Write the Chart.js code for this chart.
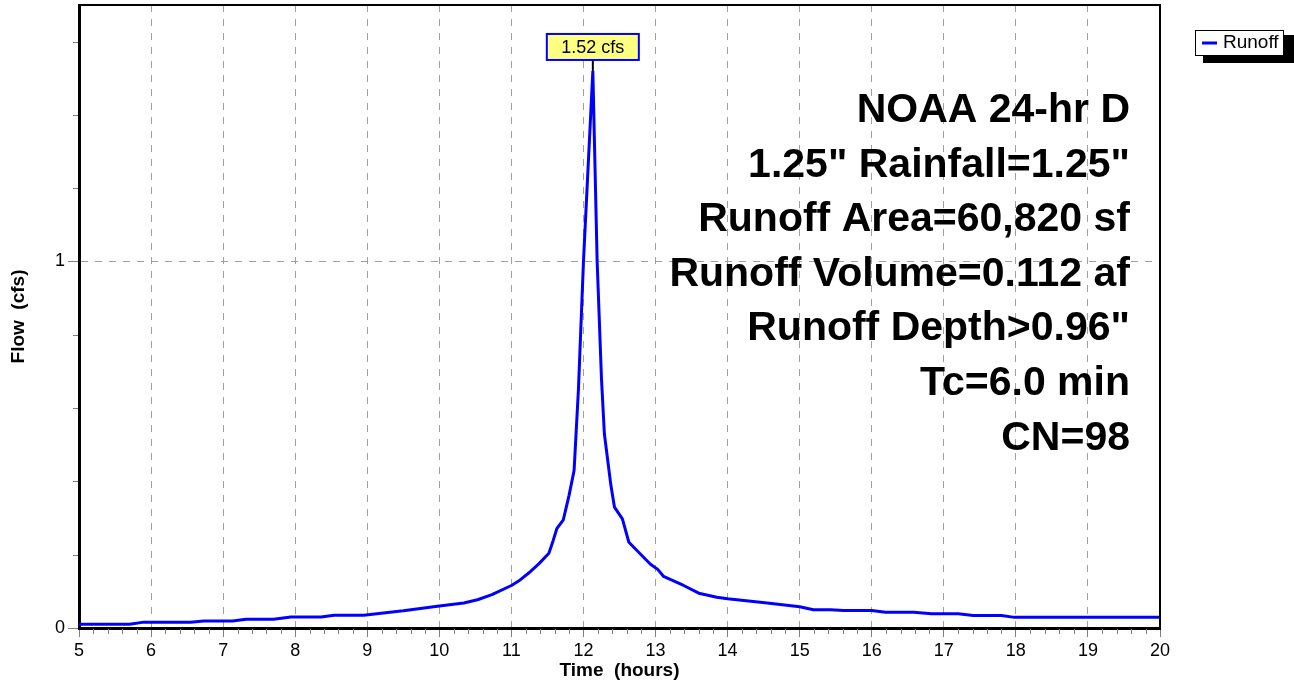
<!DOCTYPE html>
<html>
<head>
<meta charset="utf-8">
<script src="https://cdn.jsdelivr.net/npm/chart.js@4.4.1/dist/chart.umd.min.js"></script>
<style>
  html, body { margin: 0; padding: 0; background: #fff; }
  #wrap { width: 1294px; height: 684px; position: relative; }
</style>
</head>
<body>
<div id="wrap"><canvas id="hydrograph"></canvas></div>
<script>
// hydrograph (hours, cfs)
const hours = [5.00, 5.70, 5.90, 6.55, 6.73, 7.13, 7.32, 7.70, 7.94, 8.36, 8.54, 8.95, 9.50, 10.00,
  10.34, 10.53, 10.73, 11.00, 11.10, 11.24, 11.38, 11.52, 11.58, 11.63, 11.72, 11.80, 11.87, 11.90,
  11.93, 12.00, 12.13, 12.19, 12.25, 12.29, 12.38, 12.43, 12.54, 12.63, 12.80, 12.93, 13.03, 13.11,
  13.39, 13.60, 13.85, 14.00, 14.55, 15.00, 15.19, 15.43, 15.61, 16.00, 16.19, 16.58, 16.83, 17.20,
  17.41, 17.80, 17.98, 20.00];
const flows = [0.010, 0.010, 0.016, 0.016, 0.019, 0.019, 0.024, 0.024, 0.030, 0.030, 0.035, 0.035, 0.047, 0.060,
  0.068, 0.077, 0.091, 0.116, 0.128, 0.150, 0.175, 0.204, 0.239, 0.271, 0.295, 0.362, 0.430, 0.540,
  0.650, 1.000, 1.520, 1.000, 0.680, 0.530, 0.390, 0.330, 0.298, 0.234, 0.200, 0.174, 0.160, 0.141,
  0.116, 0.095, 0.084, 0.080, 0.068, 0.058, 0.050, 0.050, 0.048, 0.048, 0.043, 0.043, 0.039, 0.039,
  0.034, 0.034, 0.029, 0.029];

const seriesName = 'Runoff';
const xRange = [5, 20];
const yRange = [0, 1.7];
const infoLines = [
  'NOAA 24-hr D',
  '1.25" Rainfall=1.25"',
  'Runoff Area=60,820 sf',
  'Runoff Volume=0.112 af',
  'Runoff Depth>0.96"',
  'Tc=6.0 min',
  'CN=98'
];

const FONT = "'Liberation Sans', Arial, sans-serif";
Chart.defaults.font.family = FONT;
Chart.defaults.color = '#000';

// top/right frame + minor ticks
const framePlugin = {
  id: 'frame',
  afterDraw(chart) {
    const { ctx, chartArea: a, scales: { x, y } } = chart;
    ctx.save();
    ctx.strokeStyle = '#000';
    ctx.lineWidth = 2;
    ctx.beginPath();
    ctx.moveTo(a.left, a.top);
    ctx.lineTo(a.right, a.top);
    ctx.lineTo(a.right, a.bottom);
    ctx.stroke();

    ctx.strokeStyle = '#808080';
    ctx.lineWidth = 1;
    ctx.beginPath();
    for (let i = 0; i <= (xRange[1] - xRange[0]) * 5; i++) {
      if (i % 5 === 0) continue;
      const px = Math.round(x.getPixelForValue(xRange[0] + i / 5)) + 0.5;
      ctx.moveTo(px, a.bottom + 1);
      ctx.lineTo(px, a.bottom + 6);
    }
    for (let i = 1; i <= 8; i++) {
      if (i % 5 === 0) continue;
      const py = Math.round(y.getPixelForValue(i / 5)) + 0.5;
      ctx.moveTo(a.left - 6, py);
      ctx.lineTo(a.left - 1, py);
    }
    ctx.stroke();
    ctx.restore();
  }
};

// peak callout box
const peakPlugin = {
  id: 'peakLabel',
  afterDatasetsDraw(chart) {
    const { ctx, scales: { x, y } } = chart;
    let k = 0;
    flows.forEach((v, i) => { if (v > flows[k]) k = i; });
    const px = x.getPixelForValue(hours[k]);
    const py = y.getPixelForValue(flows[k]);
    const w = 92, h = 26;
    const bx = px - w / 2, by = py - 37;
    ctx.save();
    ctx.strokeStyle = '#000';
    ctx.lineWidth = 2;
    ctx.beginPath();
    ctx.moveTo(px, by + h);
    ctx.lineTo(px, py);
    ctx.stroke();
    ctx.fillStyle = '#ffff80';
    ctx.fillRect(bx, by, w, h);
    ctx.strokeStyle = '#0000ff';
    ctx.lineWidth = 2;
    ctx.strokeRect(bx, by, w, h);
    ctx.fillStyle = '#000';
    ctx.font = '18px ' + FONT;
    ctx.textAlign = 'center';
    ctx.textBaseline = 'middle';
    ctx.fillText(flows[k].toFixed(2) + ' cfs', px, by + h / 2 + 1);
    ctx.restore();
  }
};

// storm info text
const infoPlugin = {
  id: 'info',
  afterDatasetsDraw(chart) {
    const { ctx } = chart;
    ctx.save();
    ctx.fillStyle = '#000';
    ctx.font = 'bold 41px ' + FONT;
    ctx.textAlign = 'right';
    ctx.textBaseline = 'alphabetic';
    infoLines.forEach((t, i) => ctx.fillText(t, 1130, 122 + i * 54.6));
    ctx.restore();
  }
};

// boxed legend with drop shadow
const legendPlugin = {
  id: 'boxLegend',
  afterDraw(chart) {
    const { ctx } = chart;
    const ds = chart.data.datasets[0];
    ctx.save();
    ctx.fillStyle = '#000';
    ctx.fillRect(1203, 35, 91, 28);
    ctx.fillStyle = '#fff';
    ctx.fillRect(1195, 30, 88, 25);
    ctx.strokeStyle = '#000';
    ctx.lineWidth = 1;
    ctx.strokeRect(1195.5, 30.5, 88, 25);
    ctx.strokeStyle = ds.borderColor;
    ctx.lineWidth = 3;
    ctx.beginPath();
    ctx.moveTo(1202, 43);
    ctx.lineTo(1217, 43);
    ctx.stroke();
    ctx.fillStyle = '#000';
    ctx.font = '19px ' + FONT;
    ctx.textBaseline = 'middle';
    ctx.fillText(ds.label, 1223, 43);
    ctx.restore();
  }
};

new Chart(document.getElementById('hydrograph'), {
  type: 'line',
  data: {
    datasets: [{
      label: seriesName,
      data: hours.map((t, i) => ({ x: t, y: flows[i] })),
      borderColor: '#0000ff',
      borderWidth: 3,
      borderJoinStyle: 'bevel',
      pointRadius: 0,
      tension: 0,
      fill: false
    }]
  },
  options: {
    responsive: true,
    maintainAspectRatio: false,
    animation: false,
    layout: { padding: { top: 5, right: 134, left: 0, bottom: 0 } },
    plugins: { legend: { display: false }, tooltip: { enabled: false } },
    scales: {
      x: {
        type: 'linear',
        min: xRange[0],
        max: xRange[1],
        afterFit: s => { s.height = 56; s.paddingLeft = 0; s.paddingRight = 0; },
        ticks: { stepSize: 1, font: { size: 18 }, padding: 3, maxRotation: 0, color: '#000' },
        grid: { color: '#a0a0a0', lineWidth: 1, tickColor: '#808080', tickLength: 9 },
        border: { color: '#000', width: 3, dash: [7, 7] },
        title: { display: true, text: 'Time  (hours)', font: { size: 19, weight: 'bold' }, padding: { top: 0, bottom: 2 } }
      },
      y: {
        min: yRange[0],
        max: yRange[1],
        afterFit: s => { s.width = 79; s.paddingTop = 0; s.paddingBottom = 0; },
        ticks: { stepSize: 1, includeBounds: false, font: { size: 18 }, padding: 3, color: '#000' },
        grid: { color: '#a0a0a0', lineWidth: 1, tickColor: '#808080', tickLength: 11 },
        border: { color: '#000', width: 3, dash: [7, 7] },
        title: { display: true, text: 'Flow  (cfs)', font: { size: 19, weight: 'bold' }, padding: { top: 7, bottom: 0 } }
      }
    }
  },
  plugins: [framePlugin, peakPlugin, infoPlugin, legendPlugin]
});
</script>
</body>
</html>
